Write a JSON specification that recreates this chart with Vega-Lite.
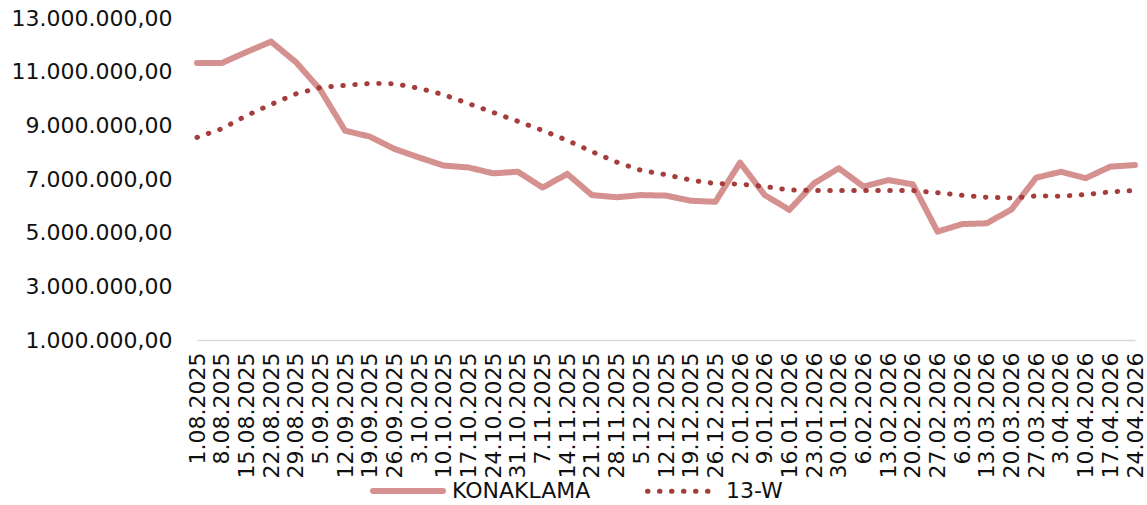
{
  "$schema": "https://vega.github.io/schema/vega-lite/v6.json",
  "width": 938,
  "height": 322,
  "autosize": "none",
  "padding": {"left": 197, "top": 18, "right": 12, "bottom": 165},
  "background": "white",
  "config": {
    "view": {"stroke": null},
    "font": "DejaVu Sans",
    "locale": {"number": {"decimal": ",", "thousands": ".", "grouping": [3], "currency": ["", ""]}}
  },
  "data": {
    "values": [
      {"d": "1.08.2025", "KONAKLAMA": 11320000, "13-W": 8550000},
      {"d": "8.08.2025", "KONAKLAMA": 11320000, "13-W": 8870000},
      {"d": "15.08.2025", "KONAKLAMA": 11730000, "13-W": 9360000},
      {"d": "22.08.2025", "KONAKLAMA": 12120000, "13-W": 9780000},
      {"d": "29.08.2025", "KONAKLAMA": 11360000, "13-W": 10170000},
      {"d": "5.09.2025", "KONAKLAMA": 10320000, "13-W": 10410000},
      {"d": "12.09.2025", "KONAKLAMA": 8800000, "13-W": 10490000},
      {"d": "19.09.2025", "KONAKLAMA": 8580000, "13-W": 10560000},
      {"d": "26.09.2025", "KONAKLAMA": 8120000, "13-W": 10550000},
      {"d": "3.10.2025", "KONAKLAMA": 7800000, "13-W": 10380000},
      {"d": "10.10.2025", "KONAKLAMA": 7500000, "13-W": 10140000},
      {"d": "17.10.2025", "KONAKLAMA": 7430000, "13-W": 9810000},
      {"d": "24.10.2025", "KONAKLAMA": 7210000, "13-W": 9480000},
      {"d": "31.10.2025", "KONAKLAMA": 7270000, "13-W": 9150000},
      {"d": "7.11.2025", "KONAKLAMA": 6680000, "13-W": 8810000},
      {"d": "14.11.2025", "KONAKLAMA": 7190000, "13-W": 8440000},
      {"d": "21.11.2025", "KONAKLAMA": 6400000, "13-W": 8020000},
      {"d": "28.11.2025", "KONAKLAMA": 6320000, "13-W": 7630000},
      {"d": "5.12.2025", "KONAKLAMA": 6400000, "13-W": 7320000},
      {"d": "12.12.2025", "KONAKLAMA": 6380000, "13-W": 7160000},
      {"d": "19.12.2025", "KONAKLAMA": 6190000, "13-W": 6960000},
      {"d": "26.12.2025", "KONAKLAMA": 6150000, "13-W": 6830000},
      {"d": "2.01.2026", "KONAKLAMA": 7610000, "13-W": 6810000},
      {"d": "9.01.2026", "KONAKLAMA": 6400000, "13-W": 6720000},
      {"d": "16.01.2026", "KONAKLAMA": 5850000, "13-W": 6590000},
      {"d": "23.01.2026", "KONAKLAMA": 6840000, "13-W": 6570000},
      {"d": "30.01.2026", "KONAKLAMA": 7400000, "13-W": 6570000},
      {"d": "6.02.2026", "KONAKLAMA": 6720000, "13-W": 6570000},
      {"d": "13.02.2026", "KONAKLAMA": 6960000, "13-W": 6570000},
      {"d": "20.02.2026", "KONAKLAMA": 6800000, "13-W": 6570000},
      {"d": "27.02.2026", "KONAKLAMA": 5040000, "13-W": 6490000},
      {"d": "6.03.2026", "KONAKLAMA": 5320000, "13-W": 6390000},
      {"d": "13.03.2026", "KONAKLAMA": 5350000, "13-W": 6320000},
      {"d": "20.03.2026", "KONAKLAMA": 5870000, "13-W": 6290000},
      {"d": "27.03.2026", "KONAKLAMA": 7050000, "13-W": 6370000},
      {"d": "3.04.2026", "KONAKLAMA": 7270000, "13-W": 6360000},
      {"d": "10.04.2026", "KONAKLAMA": 7030000, "13-W": 6420000},
      {"d": "17.04.2026", "KONAKLAMA": 7460000, "13-W": 6520000},
      {"d": "24.04.2026", "KONAKLAMA": 7520000, "13-W": 6570000}
    ]
  },
  "transform": [
    {"fold": ["KONAKLAMA", "13-W"], "as": ["series", "value"]}
  ],
  "mark": {"type": "line", "strokeCap": "round", "strokeJoin": "round"},
  "encoding": {
    "x": {
      "field": "d",
      "type": "ordinal",
      "sort": null,
      "scale": {"type": "point", "padding": 0},
      "axis": {
        "title": null,
        "labelAngle": -90,
        "labelFontSize": 22,
        "labelColor": "#111111",
        "labelPadding": 12,
        "labelOverlap": false,
        "labelBound": false,
        "labelFlush": false,
        "ticks": false,
        "grid": false,
        "domainColor": "#D9D9D9",
        "domainWidth": 1.5
      }
    },
    "y": {
      "field": "value",
      "type": "quantitative",
      "scale": {"domain": [1000000, 13000000], "nice": false, "zero": false},
      "axis": {
        "title": null,
        "values": [1000000, 3000000, 5000000, 7000000, 9000000, 11000000, 13000000],
        "format": ",.2f",
        "labelFontSize": 22,
        "labelColor": "#111111",
        "labelPadding": 25,
        "ticks": false,
        "domain": false,
        "grid": false
      }
    },
    "color": {
      "field": "series",
      "type": "nominal",
      "sort": ["KONAKLAMA", "13-W"],
      "scale": {"domain": ["KONAKLAMA", "13-W"], "range": ["#D4918F", "#A63D3D"]},
      "legend": {
        "title": null,
        "orient": "none",
        "direction": "horizontal",
        "legendX": 173,
        "legendY": 435,
        "symbolType": "stroke",
        "symbolSize": 4900,
        "symbolStrokeWidth": 5.5,
        "labelFontSize": 22,
        "labelColor": "#111111",
        "labelOffset": 6,
        "columnPadding": 46,
        "encode": {"symbols": {"update": {"strokeCap": {"value": "round"}}}}
      }
    },
    "strokeDash": {
      "field": "series",
      "type": "nominal",
      "sort": ["KONAKLAMA", "13-W"],
      "scale": {"domain": ["KONAKLAMA", "13-W"], "range": [[1, 0], [0.5, 11.5]]},
      "legend": null
    },
    "strokeWidth": {
      "field": "series",
      "type": "nominal",
      "scale": {"domain": ["KONAKLAMA", "13-W"], "range": [6, 5]},
      "legend": null
    }
  }
}
